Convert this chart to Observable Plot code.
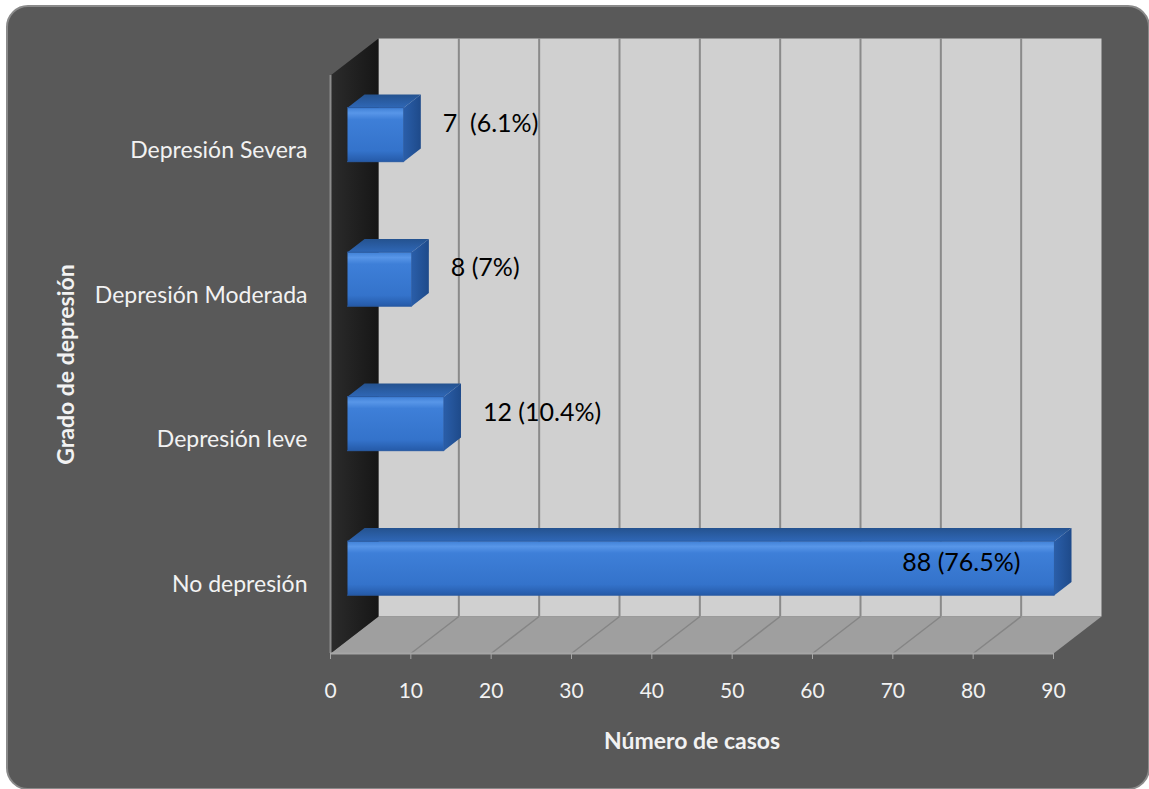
<!DOCTYPE html>
<html>
<head>
<meta charset="utf-8">
<script src="https://cdn.jsdelivr.net/npm/d3@7"></script>
<script src="https://cdn.jsdelivr.net/npm/@observablehq/plot@0.6"></script>
<style>
  html, body { margin: 0; padding: 0; background: #ffffff; overflow: hidden; }
  #chart { position: relative; width: 1149px; height: 789px; overflow: hidden; }
  #panel {
    position: absolute; left: 6px; top: 5px; width: 1140px; height: 781px;
    background: #595959; border: 2px solid #8a8a8a; border-radius: 22px;
  }
  #chart svg { position: absolute; left: 0; top: 0; }
</style>
</head>
<body>
<div id="chart"><div id="panel"></div></div>
<script>
// Depression grade of the surveyed group (number of cases)
const categories = ["No depresión", "Depresión leve", "Depresión Moderada", "Depresión Severa"];
const counts = [88, 12, 8, 7];
const valueLabels = ["88 (76.5%)", "12 (10.4%)", "8 (7%)", "7  (6.1%)"];
const xTicks = [0, 10, 20, 30, 40, 50, 60, 70, 80, 90];
const xTitle = "Número de casos";
const yTitle = "Grado de depresión";

// Canvas and 3-D frame geometry
const W = 1149, H = 789;
const M = {left: 330, right: 96, top: 75, bottom: 136};
const X_MAX = 90, Y_MAX = categories.length;
const DEPTH_PX = {x: 48, y: 37};            // screen shift of the back plane
const pxPerX = (W - M.left - M.right) / X_MAX;
const pxPerY = (H - M.top - M.bottom) / Y_MAX;
const DX = DEPTH_PX.x / pxPerX;             // depth shift in data units
const DY = DEPTH_PX.y / pxPerY;

// project a point (x, y, depth 0..1) into the chart's 2-D data space
const proj = (x, y, d) => ({x: x + d * DX, y: y + d * DY});
const quad = (id, corners) => corners.map(([x, y, d]) => ({id, ...proj(x, y, d)}));

const backWall = quad("back", [[0, 0, 1], [X_MAX, 0, 1], [X_MAX, Y_MAX, 1], [0, Y_MAX, 1]]);
const leftWall = quad("left", [[0, 0, 0], [0, Y_MAX, 0], [0, Y_MAX, 1], [0, 0, 1]]);
const floor = quad("floor", [[0, 0, 0], [X_MAX, 0, 0], [X_MAX, 0, 1], [0, 0, 1]]);

// bar boxes: half thickness and front/back depth
const HALF = 0.187, D0 = 0.354, D1 = 0.71;
const barFront = [], barTop = [], barSide = [];
counts.forEach((v, i) => {
  const c = i + 0.5, lo = c - HALF, hi = c + HALF;
  barFront.push(...quad(i, [[0, lo, D0], [v, lo, D0], [v, hi, D0], [0, hi, D0]]));
  barTop.push(...quad(i, [[0, hi, D0], [v, hi, D0], [v, hi, D1], [0, hi, D1]]));
  barSide.push(...quad(i, [[v, lo, D0], [v, lo, D1], [v, hi, D1], [v, hi, D0]]));
});

const rows = counts.map((v, i) => ({category: categories[i], value: v, label: valueLabels[i], pos: i + 0.5}));
const inner = rows.filter(d => d.value / X_MAX > 0.5);
const outer = rows.filter(d => d.value / X_MAX <= 0.5);
const innerGrid = xTicks.filter(t => t > 0 && t < X_MAX);

const font = "Lato, 'Open Sans', sans-serif";
const light = "#f2f2f2";

const chart = Plot.plot({
  width: W, height: H,
  marginLeft: M.left, marginRight: M.right, marginTop: M.top, marginBottom: M.bottom,
  style: {background: "transparent", fontFamily: font},
  x: {type: "linear", domain: [0, X_MAX], axis: null},
  y: {type: "linear", domain: [0, Y_MAX], axis: null},
  marks: [
    // walls and floor
    Plot.line(backWall, {x: "x", y: "y", z: "id", fill: "#d0d0d0", stroke: "none"}),
    Plot.ruleX(innerGrid, {x: d => d, y1: 0, y2: Y_MAX, dx: DEPTH_PX.x, dy: -DEPTH_PX.y, stroke: "#8a8a8a", strokeWidth: 2}),
    Plot.line(floor, {x: "x", y: "y", z: "id", fill: "#9f9f9f", stroke: "none"}),
    Plot.link(innerGrid, {x1: d => d, y1: 0, x2: d => d + DX, y2: DY, stroke: "#858585", strokeWidth: 1.5}),
    Plot.line(leftWall, {x: "x", y: "y", z: "id", fill: "url(#wallGrad)", stroke: "none"}),
    Plot.ruleX([0], {y1: 0, y2: Y_MAX, stroke: "#8c8c8c", strokeWidth: 2}),
    // axis line and ticks
    Plot.ruleY([0], {x1: 0, x2: X_MAX, stroke: "#a6a6a6", strokeWidth: 2}),
    Plot.axisX(xTicks, {
      anchor: "bottom", tickSize: 6, tickPadding: 24, stroke: "#a6a6a6", fill: light,
      fontSize: 21, tickFormat: d => String(d), label: null
    }),
    Plot.axisY(rows.map(d => d.pos), {
      anchor: "left", tickSize: 0, tickPadding: 23, fill: light, fontSize: 23, dy: 3,
      tickFormat: p => categories[Math.floor(p)], label: null
    }),
    // bars
    Plot.line(barSide, {x: "x", y: "y", z: "id", fill: "url(#barSide)", stroke: "none"}),
    Plot.line(barTop, {x: "x", y: "y", z: "id", fill: "url(#barTop)", stroke: "none"}),
    Plot.line(barFront, {x: "x", y: "y", z: "id", fill: "url(#barFront)", stroke: "#2a5ba3", strokeWidth: 1}),
    // value labels
    Plot.text(outer, {x: "value", y: "pos", text: "label", textAnchor: "start", dx: 56, dy: -24, fontSize: 25, fill: "#000000"}),
    Plot.text(inner, {x: "value", y: "pos", text: "label", textAnchor: "end", dx: -17, dy: -18, fontSize: 25, fill: "#000000"}),
    // axis titles
    Plot.text([xTitle], {frameAnchor: "bottom", textAnchor: "middle", lineAnchor: "middle", dy: 88, fontSize: 23, fontWeight: "bold", fill: light}),
    Plot.text([yTitle], {frameAnchor: "left", textAnchor: "middle", lineAnchor: "middle", dx: -264, rotate: -90, fontSize: 23, fontWeight: "bold", fill: light})
  ]
});

// gradients used by the 3-D faces
chart.insertAdjacentHTML("afterbegin", `
<defs>
  <linearGradient id="barFront" x1="0" y1="0" x2="0" y2="1">
    <stop offset="0" stop-color="#3f80d6"/>
    <stop offset="0.1" stop-color="#5896e8"/>
    <stop offset="0.22" stop-color="#3e7fd8"/>
    <stop offset="0.8" stop-color="#3473cb"/>
    <stop offset="1" stop-color="#255aa8"/>
  </linearGradient>
  <linearGradient id="barTop" x1="0" y1="1" x2="0" y2="0">
    <stop offset="0" stop-color="#2f67b6"/>
    <stop offset="1" stop-color="#24528f"/>
  </linearGradient>
  <linearGradient id="barSide" x1="0" y1="0" x2="1" y2="0">
    <stop offset="0" stop-color="#2a5ea9"/>
    <stop offset="1" stop-color="#1e4a8a"/>
  </linearGradient>
  <linearGradient id="wallGrad" x1="0" y1="0" x2="1" y2="0">
    <stop offset="0" stop-color="#2c2c2c"/>
    <stop offset="0.35" stop-color="#242424"/>
    <stop offset="1" stop-color="#161616"/>
  </linearGradient>
</defs>`);

document.getElementById("chart").appendChild(chart);
</script>
</body>
</html>
